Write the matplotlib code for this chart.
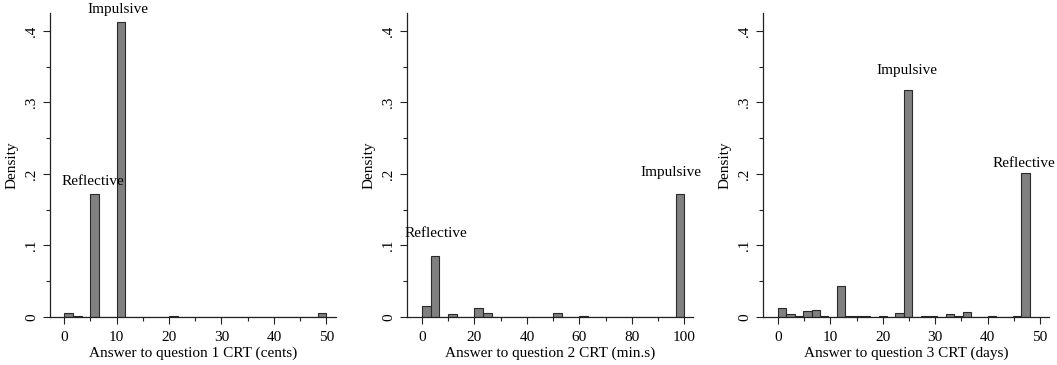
import numpy as np
import matplotlib.pyplot as plt
from matplotlib.ticker import MultipleLocator, FuncFormatter

plt.rcParams['font.family'] = ['Liberation Serif', 'DejaVu Serif']

# гистограммы: 30 бинов на каждый вопрос, значения плотности
q1_range = (0, 50)
q1_density = [0.006, 0.001, 0, 0.172, 0, 0, 0.412, 0, 0, 0,
              0, 0, 0.001, 0, 0, 0, 0, 0, 0, 0,
              0, 0, 0, 0, 0, 0, 0, 0, 0, 0.006]

q2_range = (0, 100)
q2_density = [0.016, 0.085, 0, 0.004, 0, 0, 0.013, 0.005, 0, 0,
              0, 0, 0, 0, 0, 0.005, 0, 0, 0.001, 0,
              0, 0, 0, 0, 0, 0, 0, 0, 0, 0.172]

q3_range = (0, 48)
q3_density = [0.013, 0.004, 0.001, 0.008, 0.010, 0.001, 0, 0.043, 0.001, 0.001,
              0.002, 0, 0.001, 0, 0.005, 0.318, 0, 0.001, 0.001, 0,
              0.004, 0.001, 0.007, 0, 0, 0.001, 0, 0, 0.001, 0.201]

xlabels = ['Answer to question 1 CRT (cents)',
           'Answer to question 2 CRT (min.s)',
           'Answer to question 3 CRT (days)']

# подписи: (текст, x, y)
notes = [
    [('Impulsive', 10.3, 0.421), ('Reflective', 5.5, 0.181)],
    [('Reflective', 5.3, 0.107), ('Impulsive', 94.8, 0.193)],
    [('Impulsive', 24.6, 0.336), ('Reflective', 47.0, 0.206)],
]

xlims = [(-2.67, 51.9), (-5.7, 103.4), (-2.86, 51.8)]
xsteps = [10, 20, 10]
lefts = [0.0473, 0.385, 0.7219]

fig = plt.figure(figsize=(10.57, 3.65), dpi=100)

data = [(q1_range, q1_density), (q2_range, q2_density), (q3_range, q3_density)]
for i, ((lo, hi), dens) in enumerate(data):
    ax = fig.add_axes([lefts[i], 0.1315, 0.2710, 0.833])
    edges = np.linspace(lo, hi, len(dens) + 1)
    ax.bar(edges[:-1], dens, width=np.diff(edges), align='edge',
           color='#808080', edgecolor='#2a2a2a', linewidth=0.8)
    ax.set_xlim(*xlims[i])
    ax.set_ylim(0, 0.425)
    for s in ['top', 'right']:
        ax.spines[s].set_visible(False)
    for s in ['left', 'bottom']:
        ax.spines[s].set_color('#222222')
        ax.spines[s].set_linewidth(0.9)
    ax.xaxis.set_major_locator(MultipleLocator(xsteps[i]))
    ax.xaxis.set_minor_locator(MultipleLocator(xsteps[i] / 2))
    ax.yaxis.set_major_locator(MultipleLocator(0.1))
    ax.yaxis.set_minor_locator(MultipleLocator(0.05))
    ax.yaxis.set_major_formatter(FuncFormatter(
        lambda v, p: '0' if abs(v) < 1e-9 else ('%.1f' % v).lstrip('0')))
    ax.tick_params(axis='both', which='major', length=5, width=0.8,
                   labelsize=11, color='#222222')
    ax.tick_params(axis='x', which='major', pad=5)
    ax.tick_params(axis='both', which='minor', length=3, width=0.8,
                   color='#222222')
    for lab in ax.get_yticklabels():
        lab.set_rotation(90)
        lab.set_va('center')
    ax.set_xlabel(xlabels[i], fontsize=11, labelpad=2)
    ax.set_ylabel('Density', fontsize=11, labelpad=5)
    for txt, x, y in notes[i]:
        ax.text(x, y, txt, ha='center', va='bottom', fontsize=11,
                clip_on=False)

plt.savefig('out.png', dpi=100)
